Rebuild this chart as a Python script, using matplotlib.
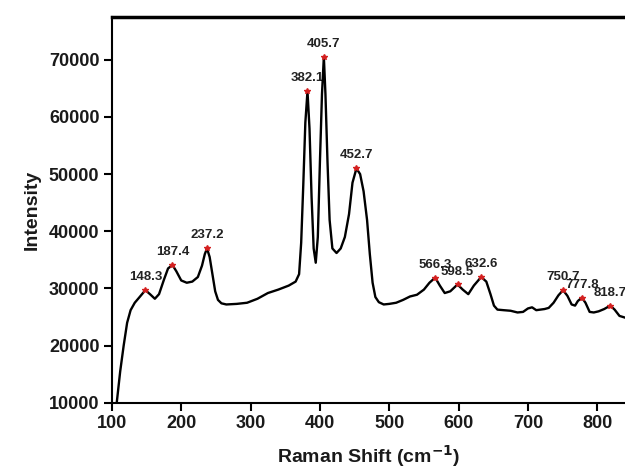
import numpy as np
import matplotlib.pyplot as plt

# Raman spectrum
shift = [107, 112, 117, 122, 127, 133, 140, 148.3, 155, 162, 168, 175, 181, 187.4,
         193, 200, 208, 216, 224, 230, 234, 237.2, 241, 245, 249, 253, 258, 265,
         280, 295, 310, 325, 340, 355, 365, 370, 373, 376, 379, 382.1, 385, 388,
         391, 394, 397, 400, 403, 405.7, 408, 411, 414, 418, 424, 430, 436, 442,
         447, 452.7, 458, 463, 468, 472, 476, 480, 485, 492, 500, 510, 520, 530,
         540, 550, 558, 566.3, 573, 580, 588, 598.5, 606, 614, 622, 632.6, 640,
         646, 651, 656, 665, 675, 685, 693, 700, 706, 712, 718, 724, 730, 737,
         744, 750.7, 757, 763, 768, 772, 777.8, 783, 789, 795, 802, 810, 818.7,
         825, 832, 840]
intensity = [10000, 15500, 20000, 24000, 26200, 27500, 28500, 29700, 29000, 28200,
             29000, 31500, 33500, 34100, 33000, 31400, 31000, 31200, 32000, 34000,
             36000, 37000, 35500, 32500, 29500, 28000, 27400, 27200, 27300, 27500,
             28200, 29200, 29800, 30500, 31200, 32500, 38000, 48000, 59000, 64500,
             58000, 46000, 37000, 34500, 39000, 52000, 64000, 70500, 64000, 52000,
             42000, 37000, 36200, 37000, 39000, 43000, 48500, 51000, 50000, 47000,
             42000, 36000, 31000, 28500, 27600, 27200, 27300, 27500, 28000, 28600,
             28900, 29800, 31000, 31900, 30500, 29200, 29500, 30700, 29800, 29000,
             30500, 32000, 31200, 29000, 27000, 26300, 26200, 26100, 25800, 25900,
             26500, 26700, 26200, 26300, 26400, 26600, 27500, 28800, 29700, 28700,
             27200, 27000, 27800, 28400, 27500, 25900, 25800, 26000, 26400, 27000,
             26300, 25200, 24900]

peaks = [148.3, 187.4, 237.2, 382.1, 405.7, 452.7, 566.3, 598.5, 632.6,
         750.7, 777.8, 818.7]
peak_labels = ["148.3", "187.4", "237.2", "382.1", "405.7", "452.7", "566.3",
               "598.5", "632.6", "750.7", "777.8", "818.7"]

plt.rcParams['font.family'] = ['Liberation Sans', 'DejaVu Sans']

fig = plt.figure(figsize=(6.25, 4.7), dpi=100)
ax = fig.add_axes([0.179, 0.143, 0.821, 0.821])

ax.plot(shift, intensity, color='black', lw=1.7, zorder=2)

peak_y = [intensity[shift.index(p)] for p in peaks]
ax.plot(peaks, peak_y, linestyle='none', marker='*', color='#d42020',
        markersize=4, zorder=3)
for px, py, lab in zip(peaks, peak_y, peak_labels):
    ax.annotate(lab, (px, py), xytext=(0, 5), textcoords='offset points',
                ha='center', va='bottom', fontsize=9.5, fontweight='bold',
                color='#222222', zorder=1)

ax.set_xlim(100, 840)
ax.set_ylim(10000, 77500)
ax.set_xticks(np.arange(100, 801, 100))
ax.set_yticks(np.arange(10000, 70001, 10000))
ax.tick_params(direction='out', length=6, width=1.5, labelsize=13, pad=3,
               labelcolor='#1a1a1a')
for t in ax.get_xticklabels() + ax.get_yticklabels():
    t.set_fontweight('bold')

ax.spines['right'].set_visible(False)
ax.spines['top'].set_linewidth(2.5)
ax.spines['left'].set_linewidth(1.5)
ax.spines['bottom'].set_linewidth(1.5)

ax.set_xlabel("Raman Shift (cm$^{\\mathbf{-1}}$)", fontsize=14, fontweight='bold',
              color='#1a1a1a', labelpad=8)
ax.set_ylabel("Intensity", fontsize=14, fontweight='bold', color='#1a1a1a',
              labelpad=6)

fig.savefig("out.png", dpi=100)
